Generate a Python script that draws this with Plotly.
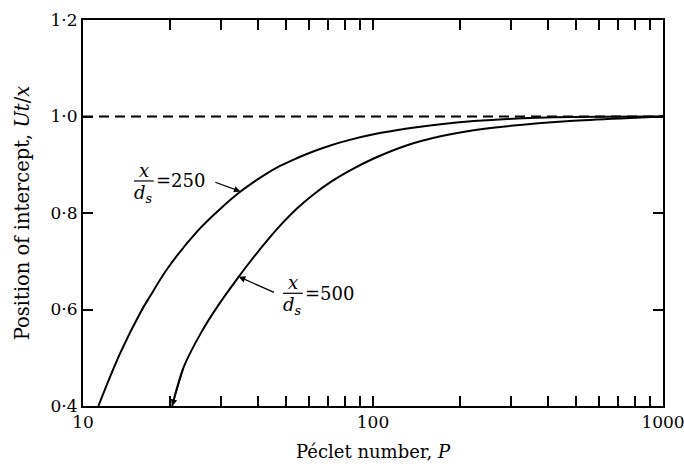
import numpy as np
import plotly.graph_objects as go

# Position of intercept Ut/x against Péclet number P, for two values of x/d_s
peclet_250 = [11.3, 13.47, 15.78, 17.09, 19.51, 24.77, 29.79, 34.92, 42.02, 47.97, 54.8,
              62.5, 71.3, 82.5, 100.6, 131.2, 171.0, 222.6, 291.0, 491.0, 1000.0]
intercept_250 = [0.400, 0.511, 0.594, 0.629, 0.684, 0.762, 0.809, 0.8445, 0.878, 0.898,
                 0.914, 0.928, 0.940, 0.951, 0.963, 0.975, 0.984, 0.9905, 0.995, 0.999, 1.000]

peclet_500 = [20.3, 22.26, 25.43, 29.03, 34.45, 37.8, 43.7, 48.0, 54.8, 62.5, 71.3, 82.5,
              100.6, 131.2, 171.0, 222.6, 291.0, 491.0, 836.0, 1000.0]
intercept_500 = [0.400, 0.481, 0.550, 0.6055, 0.668, 0.700, 0.747, 0.775, 0.810, 0.839,
                 0.864, 0.887, 0.913, 0.9405, 0.959, 0.9716, 0.980, 0.991, 0.998, 1.000]

asymptote = 1.0

x_tickvals = [10, 20, 30, 40, 50, 60, 70, 80, 90,
              100, 200, 300, 400, 500, 600, 700, 800, 900, 1000]
x_ticktext = ["10"] + [""] * 8 + ["100"] + [""] * 8 + ["1000"]
y_tickvals = [0.4, 0.6, 0.8, 1.0, 1.2]
y_ticktext = ["0·4", "0·6", "0·8", "1·0", "1·2"]

FONT = "DejaVu Serif"
INK = "black"

fig = go.Figure()
for px, py in ((peclet_250, intercept_250), (peclet_500, intercept_500)):
    fig.add_trace(go.Scatter(x=px, y=py, mode="lines",
                             line=dict(color=INK, width=2, shape="spline", smoothing=1.0),
                             hoverinfo="skip", showlegend=False))

# dashed asymptote Ut/x = 1
fig.add_shape(type="line", xref="paper", yref="y", x0=0, x1=1, y0=asymptote, y1=asymptote,
              line=dict(color=INK, width=2, dash="10px,6px"))

txt = dict(family=FONT, size=18, color=INK)
tick_txt = dict(family=FONT, size=17, color=INK)

def fraction_label(xc, yc, value, bar_half=0.017):
    """Stacked x/d_s label with '=value' beside the bar (paper coords)."""
    fig.add_annotation(xref="paper", yref="paper", x=xc, y=yc + 0.028, text="<i>x</i>",
                       showarrow=False, font=txt, xanchor="center", yanchor="middle")
    fig.add_annotation(xref="paper", yref="paper", x=xc, y=yc - 0.034,
                       text="<i>d<sub>s</sub></i>",
                       showarrow=False, font=txt, xanchor="center", yanchor="middle")
    fig.add_shape(type="line", xref="paper", yref="paper",
                  x0=xc - bar_half, x1=xc + bar_half, y0=yc, y1=yc,
                  line=dict(color=INK, width=1.2))
    fig.add_annotation(xref="paper", yref="paper", x=xc + bar_half + 0.001, y=yc,
                       text="=" + value, showarrow=False, font=txt,
                       xanchor="left", yanchor="middle")

fraction_label(0.105, 0.583, "250")
fraction_label(0.362, 0.292, "500")

def pointer(tip_x, tip_y, tail_x, tail_y):
    fig.add_annotation(x=np.log10(tip_x), y=tip_y, ax=np.log10(tail_x), ay=tail_y,
                       axref="x", ayref="y", text="", showarrow=True, arrowhead=2,
                       arrowsize=1.1, arrowwidth=1.2, arrowcolor=INK, standoff=0)

# pointer arrows from labels to curves
i250 = peclet_250.index(34.92)
pointer(peclet_250[i250], intercept_250[i250], 28.25, 0.865)
i500 = peclet_500.index(34.45)
pointer(peclet_500[i500], intercept_500[i500], 46.1, 0.634)
# arrowhead at the lower end of the x/d_s = 500 curve
pointer(peclet_500[0], intercept_500[0], peclet_500[1], intercept_500[1])

axis_common = dict(showgrid=False, zeroline=False, showline=True, linecolor=INK,
                   linewidth=2, mirror="ticks", ticks="inside", ticklen=10,
                   tickwidth=1.5, tickcolor=INK, tickfont=tick_txt,
                   ticklabeloverflow="allow", automargin=False)

fig.update_xaxes(type="log", range=[1, 3], tickvals=x_tickvals, ticktext=x_ticktext,
                 title=dict(text="Péclet number, <i>P</i>", font=txt, standoff=14),
                 **axis_common)
fig.update_yaxes(range=[0.4, 1.2], tickvals=y_tickvals, ticktext=y_ticktext,
                 title=dict(text="Position of intercept, <i>Ut</i>/<i>x</i>",
                            font=dict(family=FONT, size=19.5, color=INK), standoff=16),
                 **axis_common)

fig.update_layout(width=684, height=471, plot_bgcolor="white", paper_bgcolor="white",
                  margin=dict(l=83, r=21, t=20, b=65), font=txt)

fig.write_html("out.html")
